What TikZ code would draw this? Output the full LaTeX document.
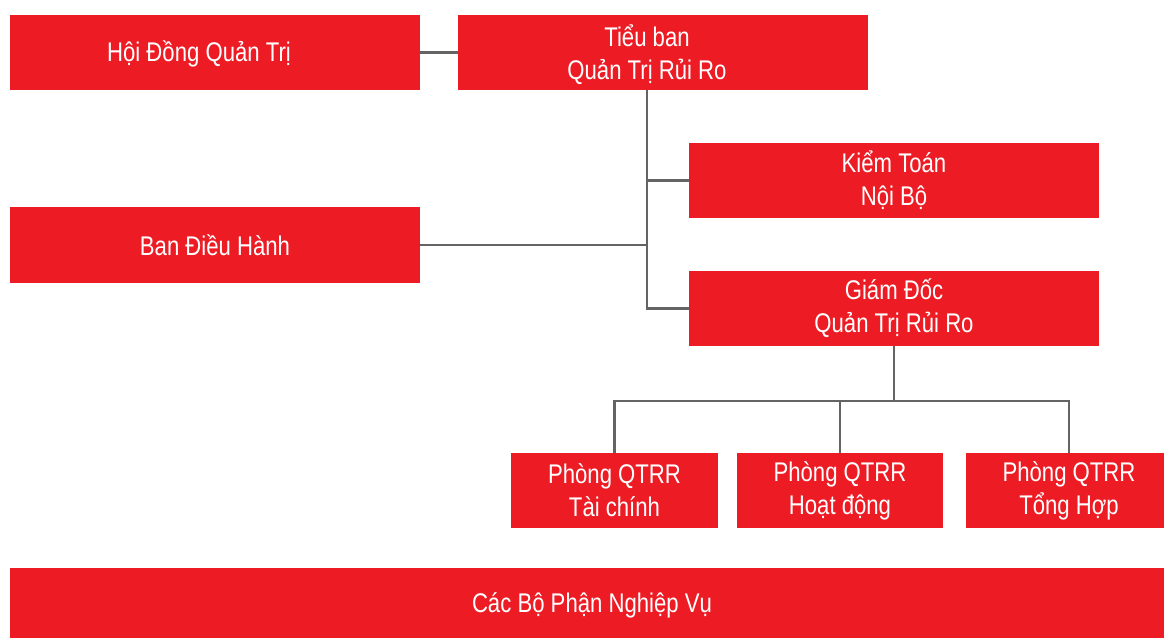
\documentclass[tikz,border=0pt]{standalone}
\usepackage{fontspec}
\setmainfont[FakeStretch=0.82]{Liberation Sans}
\definecolor{boxred}{HTML}{ED1C24}
\definecolor{linegray}{HTML}{646464}
\tikzset{
  boxtext/.style={text=white, align=center, inner sep=0pt,
    font=\fontsize{27}{33}\selectfont},
  orgbox/.style={boxtext, fill=boxred, draw=none,
    minimum width=410pt, minimum height=75pt},
  smallbox/.style={orgbox, minimum width=207pt},
  conn/.style={draw=linegray, line width=2.5pt}
}
\begin{document}
\begin{tikzpicture}[x=1pt,y=-1pt]
\useasboundingbox (0,0) rectangle (1164,637);
\node[orgbox] (hdqt) at (215,52.5) {};
\node[boxtext] (hdqtt) at ([xshift=-16pt,yshift=-1pt]hdqt.center) {Hội Đồng Quản Trị};
\node[orgbox] (tieuban) at (663,52.5) {};
\node[boxtext] (tieubant) at ([xshift=-16pt,yshift=-2pt]tieuban.center) {Tiểu ban\\Quản Trị Rủi Ro};
\node[orgbox] (kiemtoan) at (894,180.5) {Kiểm Toán\\Nội Bộ};
\node[orgbox, minimum height=76pt] (bdh) at (215,245) {Ban Điều Hành};
\node[orgbox] (gd) at (894,308.5) {Giám Đốc\\Quản Trị Rủi Ro};
\node[smallbox] (p1) at (614.5,490.5) {Phòng QTRR\\Tài chính};
\node[smallbox, minimum width=206pt] (p2) at (840,490.5) {Phòng QTRR\\Hoạt động};
\node[smallbox, minimum width=206pt] (p3) at (1069,490.5) {Phòng QTRR\\Tổng Hợp};
\node[orgbox, minimum width=1164pt, minimum height=74pt] (cac) at (592,605) {Các Bộ Phận Nghiệp Vụ};
\coordinate (tx) at (647,0);
\coordinate (bus) at (0,401);
\draw[conn] (hdqt.east) -- (tieuban.west);
\draw[conn] (tieuban.south -| tx) |- (gd.west);
\draw[conn] (kiemtoan.west) -- (kiemtoan.west -| tx);
\draw[conn] (bdh.east) -- (bdh.east -| tx);
\draw[conn] (gd.south) -- (gd.south |- bus);
\draw[conn] (p1.north) -- (p1.north |- bus) -| (p3.north);
\draw[conn] (p2.north) -- (p2.north |- bus);
\end{tikzpicture}
\end{document}
